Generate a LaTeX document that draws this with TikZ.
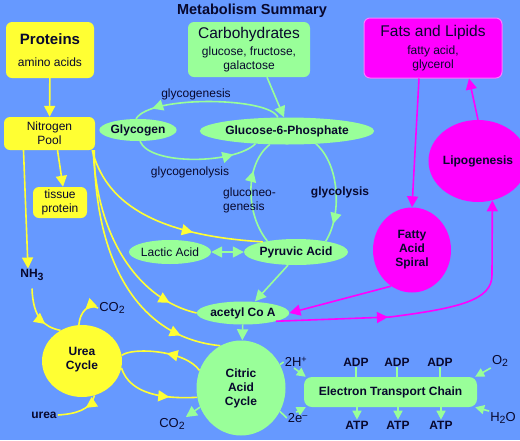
\documentclass[tikz,border=0pt]{standalone}
\usepackage{fontspec}
\setmainfont{Liberation Sans}
\usetikzlibrary{arrows.meta,shapes.geometric,decorations.markings,calc}
\definecolor{bg}{RGB}{102,153,255}
\definecolor{yel}{RGB}{255,255,51}
\definecolor{grn}{RGB}{153,255,153}
\definecolor{mag}{RGB}{255,0,255}
\definecolor{magedge}{RGB}{255,120,255}
\definecolor{ink}{RGB}{8,8,45}
\newcommand\sbs[1]{\raisebox{-0.35ex}{\fontsize{10.5}{12}\selectfont #1}}
\begin{document}
\begin{tikzpicture}[x=1pt,y=-1pt,
  >={Triangle[length=11pt,width=11pt]},
  every node/.style={text=ink, font=\fontsize{12}{14}\selectfont},
  box/.style={rounded corners=6pt, inner sep=0pt, align=center},
  ybox/.style={box, fill=yel},
  gbox/.style={box, fill=grn},
  mbox/.style={box, fill=mag, draw=magedge, line width=1pt},
  oval/.style={ellipse, inner sep=0pt, align=center, font=\fontsize{12}{14}\selectfont\bfseries},
  lbl/.style={inner sep=1pt},
  slbl/.style={inner sep=1pt, font=\fontsize{13}{15}\selectfont},
  blbl/.style={inner sep=1pt, font=\fontsize{12}{14}\selectfont\bfseries},
  ylin/.style={color=yel, line width=1.6pt},
  glin/.style={color=grn, line width=1.6pt},
  mlin/.style={color=mag, line width=1.6pt},
  sarr/.style={->, >={Triangle[length=9pt,width=9pt]}},
  midtip/.style={postaction={decorate}, decoration={markings, mark=at position #1 with {\arrow{Triangle[length=11pt,width=11pt]}}}}
]
\fill[bg] (0,0) rectangle (520,440);
\useasboundingbox (0,0) rectangle (520,440);

% title
\node[font=\fontsize{14.5}{16}\selectfont\bfseries] (title) at (252,11) {Metabolism Summary};

% source boxes
\node[ybox, minimum width=88pt, minimum height=56pt] (proteins) at (50,50)
  {{\fontsize{15}{18}\selectfont\bfseries Proteins}\\[8pt]amino acids};
\node[gbox, minimum width=122pt, minimum height=55pt] (carbo) at (249,49.5)
  {{\fontsize{15.5}{18}\selectfont Carbohydrates}\\[3pt]glucose, fructose,\\galactose};
\node[mbox, minimum width=138pt, minimum height=60pt] (fats) at (433,48)
  {{\fontsize{15.5}{18}\selectfont Fats and Lipids}\\[4pt]fatty acid,\\glycerol};

% protein side
\node[ybox, minimum width=91pt, minimum height=33pt] (npool) at (49.5,133.5) {Nitrogen\\Pool};
\node[ybox, minimum width=54pt, minimum height=31pt] (tissue) at (60,202.5) {tissue\\protein};
\node[blbl] (nh3) at (32,275) {NH\sbs{3}};

% carbohydrate side
\node[oval, fill=grn, minimum width=64pt, minimum height=22pt] (glycogen) at (138,130) {Glycogen};
\node[oval, fill=grn, minimum width=142pt, minimum height=27pt] (g6p) at (287,131) {Glucose-6-Phosphate};
\node[oval, fill=grn, minimum width=104pt, minimum height=26pt] (pyruvic) at (296,252) {Pyruvic Acid};
\node[oval, fill=grn, minimum width=76pt, minimum height=24pt, font=\fontsize{12}{14}\selectfont] (lactic) at (170,252) {Lactic Acid};
\node[oval, fill=grn, minimum width=80pt, minimum height=23pt] (acetyl) at (243,313) {acetyl Co A};

% fat side
\node[oval, fill=mag, minimum width=78pt, minimum height=85pt] (fas) at (412,250) {Fatty\\Acid\\Spiral};
\node[oval, fill=mag, minimum width=82pt, minimum height=82pt] (lipo) at (478,161) {Lipogenesis};

% cycles
\node[oval, fill=yel, minimum width=80pt, minimum height=72pt] (urea) at (82,361) {\\[-8pt]Urea\\Cycle};
\node[oval, fill=grn, minimum width=89pt, minimum height=95pt] (citric) at (241,388) {Citric\\Acid\\Cycle};

\node[slbl] (co2u) at (112,308) {CO\sbs{2}};
\node[blbl] (urealbl) at (44,415) {urea};
\node[slbl] (co2c) at (172,424) {CO\sbs{2}};

% electron transport chain
\node[gbox, rounded corners=8pt, minimum width=173pt, minimum height=30pt, font=\fontsize{12}{14}\selectfont\bfseries] (etc) at (390.5,392) {Electron Transport Chain};
\node[slbl] (h2) at (296,362) {2H\textsuperscript{+}};
\node[slbl] (e2) at (298,418) {2e\textsuperscript{--}};
\node[slbl] (o2) at (500,361) {O\sbs{2}};
\node[slbl] (h2o) at (503,418) {H\sbs{2}O};
\node[blbl] (adp1) at (356,362) {ADP};
\node[blbl] (adp2) at (397,362) {ADP};
\node[blbl] (adp3) at (440,362) {ADP};
\node[blbl] (atp1) at (357,425) {ATP};
\node[blbl] (atp2) at (398,425) {ATP};
\node[blbl] (atp3) at (441,425) {ATP};

% ---- yellow connectors
\draw[ylin,->] (proteins) -- (npool);
\draw[ylin,->] ([xshift=8pt]npool.south) -- ([xshift=3pt]tissue.north);
\draw[ylin,->] ([xshift=-26pt]npool.south) -- ([xshift=-4pt]nh3.north);
\draw[ylin, midtip=0.66] ([xshift=-3pt]npool.south east) .. controls (105,200) and (150,235) .. (pyruvic.163);
\draw[ylin, midtip=0.86] ([xshift=-2pt]npool.south east) .. controls (97,240) and (140,300) .. (acetyl.west);
\draw[ylin, midtip=0.84] ([xshift=-1pt]npool.south east) .. controls (95,265) and (140,338) .. (citric.116);
\draw[ylin, midtip=0.7] ([yshift=-7pt]nh3.south) .. controls (33,318) and (44,327) .. (urea.125);
\draw[ylin, midtip=0.45] (co2u.west) .. controls (88,303) and (80,312) .. (urea.95);
\draw[ylin, midtip=0.35] (urea.-70) .. controls (91,410) and (75,414) .. (urealbl.east);
\draw[ylin, midtip=0.45] (citric.157) .. controls (185,350) and (132,347) .. (urea.8);
\draw[ylin, midtip=0.68] (urea.-10) .. controls (130,395) and (165,399) .. (citric.192);

% ---- green connectors
\draw[glin,->] ([xshift=18pt]carbo.south) -- ([xshift=-3pt]g6p.north);
\draw[glin, midtip=0.87] (g6p.124) .. controls (270,97) and (150,95) .. (glycogen.100);
\draw[glin, midtip=0.8] (glycogen.-80) .. controls (150,166) and (235,164) .. (g6p.-158);
\draw[glin, midtip=0.82] (g6p.-24) .. controls (340,165) and (342,215) .. (pyruvic.20);
\draw[glin, midtip=0.7] (pyruvic.159) .. controls (246,215) and (244,165) .. (g6p.-142);
\draw[glin,<->] (lactic) -- (pyruvic);
\draw[glin,->] ([xshift=-8pt]pyruvic.south) -- ([xshift=12pt]acetyl.north);
\draw[glin,->] (acetyl) -- (citric);
\draw[glin,->] (citric.205) -- (co2c.north east);

% ---- magenta connectors
\draw[mlin,->] ([xshift=-14pt]fats.south) -- (fas.north);
\draw[mlin,->] (lipo.north) -- ([xshift=36pt]fats.south);
\draw[mlin,->] (fas.240) -- (acetyl.east);
\draw[mlin,->, midtip=112pt] (acetyl.-14) -- (390,317) .. controls (460,308) and (492,300) .. (492,275) -- (lipo.-70);

% ---- electron transport chain connectors
\draw[glin] (citric.31) -- (h2.west);
\draw[glin] (citric.-31) -- (e2.west);
\draw[glin,sarr] ([xshift=-2pt]h2.south) -- ([xshift=2pt]etc.north west);
\draw[glin,sarr] ([xshift=-2pt]e2.north) -- ([xshift=2pt]etc.south west);
\draw[glin,sarr] (o2.south west) -- ([xshift=-2pt]etc.north east);
\draw[glin,sarr] (h2o.north west) -- ([xshift=-2pt]etc.south east);
\foreach \n in {adp1,adp2,adp3}{\draw[glin] (\n.south) -- (\n.south |- etc.north);}
\foreach \n in {atp1,atp2,atp3}{\draw[glin,sarr] (\n.north |- etc.south) -- (\n.north);}

% ---- pathway labels (on top of the arcs)
\node[lbl] (lgenesis) at (196,94.5) {glycogenesis};
\node[lbl] (llysis) at (190,172) {glycogenolysis};
\node[lbl, align=left, anchor=west] (lneo) at (222,200) {gluconeo-\\genesis};
\node[blbl] (lglyc) at (340,192) {glycolysis};
\end{tikzpicture}
\end{document}
